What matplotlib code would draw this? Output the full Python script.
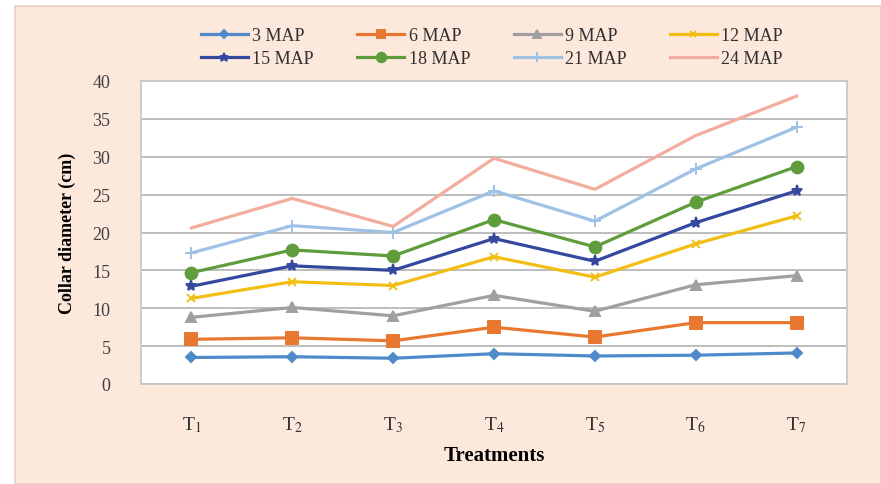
import matplotlib
matplotlib.use("Agg")
import matplotlib.pyplot as plt
from matplotlib.patches import Rectangle

plt.rcParams["font.family"] = ["Liberation Serif", "DejaVu Serif"]
plt.rcParams["mathtext.fontset"] = "stix"

treatments = ["T$_1$", "T$_2$", "T$_3$", "T$_4$", "T$_5$", "T$_6$", "T$_7$"]
series_names = ["3 MAP", "6 MAP", "9 MAP", "12 MAP", "15 MAP", "18 MAP", "21 MAP", "24 MAP"]

map3 = [3.5, 3.6, 3.4, 4.0, 3.7, 3.8, 4.1]
map6 = [5.9, 6.1, 5.7, 7.5, 6.2, 8.1, 8.1]
map9 = [8.8, 10.1, 9.0, 11.7, 9.6, 13.1, 14.3]
map12 = [11.3, 13.5, 13.0, 16.8, 14.1, 18.5, 22.2]
map15 = [12.9, 15.6, 15.0, 19.2, 16.2, 21.3, 25.5]
map18 = [14.7, 17.7, 16.9, 21.7, 18.1, 24.0, 28.7]
map21 = [17.3, 20.9, 20.0, 25.5, 21.5, 28.4, 33.9]
map24 = [20.6, 24.5, 20.8, 29.8, 25.7, 32.8, 38.0]

values = [map3, map6, map9, map12, map15, map18, map21, map24]
colors = ["#4F8BC9", "#E8782F", "#A0A0A0", "#F2BE13",
          "#34489E", "#5E9C3C", "#9EC2E6", "#F3AD9F"]
markers = ["D", "s", "^", "x", "*", "o", "+", None]
msizes = [5.5, 8, 7, 6, 8, 8.5, 9, 0]

fig = plt.figure(figsize=(8.81, 4.85), dpi=100)
fig.patch.set_facecolor("white")
fig.patches.append(Rectangle((15 / 881, 0), 1 - 15 / 881, 1 - 7 / 485,
                             transform=fig.transFigure, facecolor="#FDE8DC",
                             edgecolor="#E6CFC2", linewidth=1.2, zorder=-10))

ax = fig.add_axes([141 / 881, 1 - 385 / 485, (847 - 141) / 881, (385 - 82) / 485])
ax.set_facecolor("white")

x = list(range(len(treatments)))
handles = []
for name, vals, c, m, ms in zip(series_names, values, colors, markers, msizes):
    h, = ax.plot(x, vals, color=c, linewidth=2.3, marker=m, markersize=ms,
                 markeredgewidth=1.4, markeredgecolor=c, markerfacecolor=c,
                 label=name, zorder=3)
    handles.append(h)

ax.set_xlim(-0.5, len(treatments) - 0.5)
ax.set_ylim(0, 40)
ax.set_yticks(range(0, 41, 5))
ax.set_xticks(x)
ax.set_xticklabels(treatments, fontsize=14)
ax.tick_params(axis="y", labelsize=13, length=0, pad=22, colors="#404040")
ax.tick_params(axis="x", length=0, pad=22, colors="#303030")
ax.grid(axis="y", color="#B8B8B8", linewidth=1.3, zorder=0)
for s in ax.spines.values():
    s.set_color("#C8C8C8")
    s.set_linewidth(1.3)

ax.set_xlabel("Treatments", fontsize=15, fontweight="bold", labelpad=8)
ax.set_ylabel("Collar diameter (cm)", fontsize=13, fontweight="bold", labelpad=12)

# legend is filled row by row: 4 series per row
ncol = 4
order = [r * ncol + c for c in range(ncol) for r in range(2)]
leg = fig.legend([handles[i] for i in order], [series_names[i] for i in order],
                 loc="center", bbox_to_anchor=(492 / 881, 1 - 48 / 485), ncol=ncol,
                 frameon=False, fontsize=13, handlelength=2.6, handletextpad=0.25,
                 columnspacing=2.4, labelspacing=0.35, markerscale=0.8)
for t in leg.get_texts():
    t.set_color("#303030")

fig.savefig("out.png", dpi=100, facecolor=fig.get_facecolor())
